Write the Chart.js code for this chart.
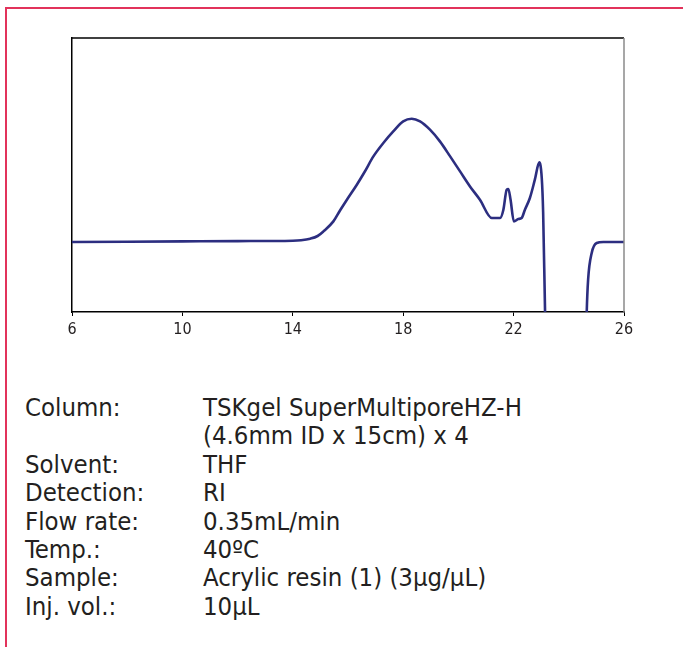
<!doctype html>
<html lang="en">
<head>
    <title>Acrylic resin (1) on TSKgel SuperMultiporeHZ-H</title>
    <script src="https://cdn.jsdelivr.net/npm/chart.js@4.4.1/dist/chart.umd.min.js"></script>
    <style>
        body { margin: 0; background: #fff; }
        #page { position: relative; width: 683px; height: 648px; overflow: hidden; }
        #frame {
            position: absolute; left: 5px; top: 7px; width: 700px; height: 638px;
            border-left: 2px solid #e2335b; border-top: 2px solid #e2335b;
        }
        #chartV { position: absolute; left: 0; top: 0; }
        #conditions {
            position: absolute; left: 25px; top: 393px; border-collapse: collapse;
            font-family: "Liberation Sans Narrow", "DejaVu Sans Condensed", sans-serif;
            font-size: 25.5px; line-height: 28.4px; color: #231f20;
        }
        #conditions td { padding: 0; vertical-align: top; white-space: nowrap; }
        #conditions td.label { width: 178px; }
    </style>
</head>
<body onload="init()">
<div id="page">
    <div id="frame"></div>
    <canvas id="chartV" width="683" height="345"></canvas>
    <table id="conditions"></table>
</div>

<script>
    // retention time (min) and RI response (baseline = 0)
    const retention = [
        6.0, 8.0, 10.0, 12.0, 14.0, 14.3, 14.63, 14.9, 15.11, 15.47, 15.71, 15.96,
        16.32, 16.6, 16.92, 17.28, 17.64, 18.0, 18.31, 18.61, 18.97, 19.33, 19.7,
        20.06, 20.42, 20.78, 21.21, 21.51, 21.63, 21.75, 21.81, 21.89, 22.01, 22.17,
        22.29, 22.41, 22.59, 22.77, 22.93, 23.02, 23.07, 23.14, 23.2,
        24.6, 24.65, 24.7, 24.83, 25.01, 25.25, 26.0
    ];
    const signal = [
        0, 0.3, 0.6, 0.9, 1.3, 1.8, 3.3, 6, 10.6, 20.6, 31.5, 42.3,
        57.3, 70, 85.6, 99, 110.6, 120.6, 123.3, 120.6, 112.3, 100.6, 85.6,
        70.6, 55.6, 42.3, 24, 24, 32.3, 52.3, 53, 42.3, 20.6, 23,
        24, 32.3, 44, 62.3, 79.6, 64, 30, -70, -140,
        -140, -70, -37.7, -11, -1, 0, 0
    ];
    const xTicks = [6, 10, 14, 18, 22, 26];

    const conditionLabels = ["Column:", "", "Solvent:", "Detection:", "Flow rate:", "Temp.:", "Sample:", "Inj. vol.:"];
    const conditionValues = [
        "TSKgel SuperMultiporeHZ-H", "(4.6mm ID x 15cm) x 4", "THF", "RI",
        "0.35mL/min", "40ºC", "Acrylic resin (1) (3µg/µL)", "10µL"
    ];

    function init() {
        const table = document.getElementById('conditions');
        conditionLabels.forEach(function (label, i) {
            const row = table.insertRow();
            const c1 = row.insertCell();
            c1.className = 'label';
            c1.textContent = label;
            row.insertCell().textContent = conditionValues[i];
        });

        const narrow = '"Liberation Sans Narrow", "DejaVu Sans Condensed", sans-serif';

        // top and right edges of the plot box
        const boxEdges = {
            id: 'boxEdges',
            afterDraw(chart) {
                const a = chart.chartArea;
                const ctx = chart.ctx;
                ctx.save();
                ctx.lineWidth = 1.5;
                ctx.strokeStyle = '#000';
                ctx.beginPath();
                ctx.moveTo(a.left, a.top);
                ctx.lineTo(a.right, a.top);
                ctx.stroke();
                ctx.strokeStyle = '#8a8a8a';
                ctx.beginPath();
                ctx.moveTo(a.right, a.top);
                ctx.lineTo(a.right, a.bottom);
                ctx.stroke();
                ctx.restore();
            }
        };

        new Chart(document.getElementById('chartV'), {
            type: 'line',
            data: {
                datasets: [{
                    data: retention.map((t, i) => ({x: t, y: signal[i]})),
                    borderColor: '#2c2e80',
                    borderWidth: 2.6,
                    pointRadius: 0,
                    cubicInterpolationMode: 'monotone',
                    fill: false,
                }],
            },
            options: {
                responsive: false,
                animation: false,
                layout: {
                    padding: {left: 72, right: 59, top: 38, bottom: 3},
                },
                plugins: {
                    legend: {display: false},
                    tooltip: {enabled: false},
                },
                scales: {
                    x: {
                        type: 'linear',
                        min: 6,
                        max: 26,
                        afterBuildTicks: (scale) => {
                            scale.ticks = xTicks.map(v => ({value: v}));
                        },
                        afterFit: (scale) => { scale.height = 30; },
                        grid: {
                            drawOnChartArea: false,
                            drawTicks: true,
                            tickLength: 4,
                            tickColor: '#000',
                        },
                        border: {color: '#000', width: 1.5},
                        ticks: {
                            padding: 4,
                            color: '#231f20',
                            maxRotation: 0,
                            font: {family: narrow, size: 16},
                        },
                    },
                    y: {
                        min: -70,
                        max: 204,
                        afterFit: (scale) => { scale.width = 0; },
                        grid: {display: false},
                        ticks: {display: false},
                        border: {color: '#000', width: 1.5},
                    },
                },
            },
            plugins: [boxEdges],
        });
    }
</script>
</body>
</html>
